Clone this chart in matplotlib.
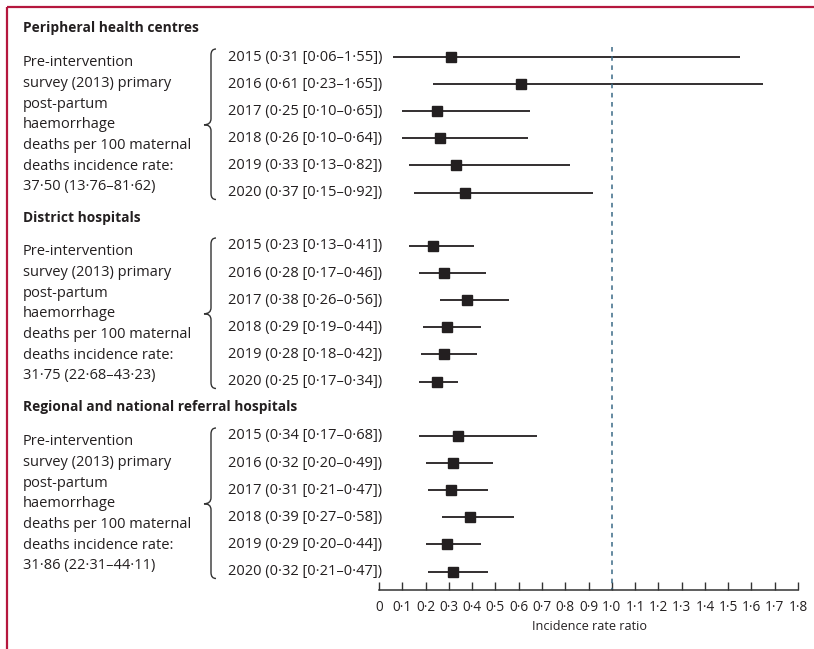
import matplotlib
matplotlib.use("Agg")
import matplotlib.pyplot as plt
from matplotlib.path import Path
from matplotlib.patches import PathPatch

plt.rcParams['font.family'] = ['Open Sans', 'DejaVu Sans']

# ---------------- data ----------------
groups = ["Peripheral health centres", "District hospitals",
          "Regional and national referral hospitals"]
years = ["2015", "2016", "2017", "2018", "2019", "2020"]

peripheral_est = [0.31, 0.61, 0.25, 0.26, 0.33, 0.37]
peripheral_lo = [0.06, 0.23, 0.10, 0.10, 0.13, 0.15]
peripheral_hi = [1.55, 1.65, 0.65, 0.64, 0.82, 0.92]

district_est = [0.23, 0.28, 0.38, 0.29, 0.28, 0.25]
district_lo = [0.13, 0.17, 0.26, 0.19, 0.18, 0.17]
district_hi = [0.41, 0.46, 0.56, 0.44, 0.42, 0.34]

regional_est = [0.34, 0.32, 0.31, 0.39, 0.29, 0.32]
regional_lo = [0.17, 0.20, 0.21, 0.27, 0.20, 0.21]
regional_hi = [0.68, 0.49, 0.47, 0.58, 0.44, 0.47]

baseline_rates = ["37·50 (13·76–81·62)", "31·75 (22·68–43·23)", "31·86 (22·31–44·11)"]

xticks = [round(0.1 * i, 1) for i in range(19)]
xtick_labels = ["0"] + [f"{t:.1f}".replace(".", "·") for t in xticks[1:]]

estimates = [peripheral_est, district_est, regional_est]
lows = [peripheral_lo, district_lo, regional_lo]
highs = [peripheral_hi, district_hi, regional_hi]

# ---------------- layout (pixel units) ----------------
W, H = 814, 649
fig = plt.figure(figsize=(W / 100, H / 100), dpi=100)

ov = fig.add_axes([0, 0, 1, 1])
ov.set_xlim(0, W)
ov.set_ylim(H, 0)
ov.axis("off")

x0_px, x1_px = 379, 798
ax = fig.add_axes([x0_px / W, 0, (x1_px - x0_px) / W, 1])
ax.set_xlim(0, 1.8)
ax.set_ylim(H, 0)
ax.patch.set_alpha(0)

ink = "#231f20"
fs = 10.5

# frame
ov.plot([7, W], [7, 7], color="#b5173e", lw=1.6, solid_capstyle="butt")
ov.plot([7, 7], [7, H], color="#b5173e", lw=1.6, solid_capstyle="butt")

header_y = [28, 218, 407]
first_row = [57, 246, 436]
row_step = 27.1
line_step = 20.7

para_lines = ["Pre-intervention", "survey (2013) primary", "post-partum",
              "haemorrhage", "deaths per 100 maternal", "deaths incidence rate:"]


def brace(xs, top, bottom, tip_x, mid):
    verts = [(xs + 5, top), (xs, top), (xs, top + 6),
             (xs, mid - 6), (xs, mid), (tip_x, mid),
             (xs, mid), (xs, mid + 6),
             (xs, bottom - 6), (xs, bottom), (xs + 5, bottom)]
    codes = [Path.MOVETO, Path.CURVE3, Path.CURVE3,
             Path.LINETO, Path.CURVE3, Path.CURVE3,
             Path.CURVE3, Path.CURVE3,
             Path.LINETO, Path.CURVE3, Path.CURVE3]
    return PathPatch(Path(verts, codes), fill=False, lw=1.0, edgecolor="#333333")


for g in range(3):
    ov.text(23, header_y[g], groups[g], fontsize=9.9, fontweight="bold",
            color=ink, va="center", ha="left")
    ys = [first_row[g] + i * row_step for i in range(len(years))]
    mid = (ys[0] + ys[-1]) / 2
    lines = para_lines + [baseline_rates[g]]
    n = len(lines)
    for k, t in enumerate(lines):
        ov.text(23, mid + (k - (n - 1) / 2) * line_step, t, fontsize=fs,
                color=ink, va="center", ha="left")
    ov.add_patch(brace(211, ys[0] - 8, ys[-1] + 7, 204, mid))
    for i, yr in enumerate(years):
        e, lo, hi = estimates[g][i], lows[g][i], highs[g][i]
        lab = f"{yr} ({e:.2f} [{lo:.2f}–{hi:.2f}])".replace(".", "·")
        ov.text(228, ys[i], lab, fontsize=fs, color=ink, va="center", ha="left")
        ax.plot([lo, hi], [ys[i], ys[i]], color=ink, lw=1.3, solid_capstyle="butt")
        ax.plot([e], [ys[i]], marker="s", ms=7.5, color=ink, mec=ink)

axis_y = 590
ax.plot([1.0, 1.0], [47, axis_y], color="#3b6a86", lw=1.1, ls=(0, (3, 3)))

for s in ["left", "right", "top"]:
    ax.spines[s].set_visible(False)
ax.spines["bottom"].set_position(("data", axis_y))
ax.spines["bottom"].set_color("#333333")
ax.spines["bottom"].set_linewidth(1.1)
ax.set_yticks([])
ax.set_xticks(xticks)
ax.set_xticklabels(xtick_labels)
ax.tick_params(axis="x", direction="in", length=6, width=1.0, color="#333333",
               labelsize=9.8, labelcolor=ink, pad=7)
ov.text(589, 627, "Incidence rate ratio", fontsize=9.1,
        color=ink, ha="center", va="center")

fig.savefig("out.png", dpi=100)
